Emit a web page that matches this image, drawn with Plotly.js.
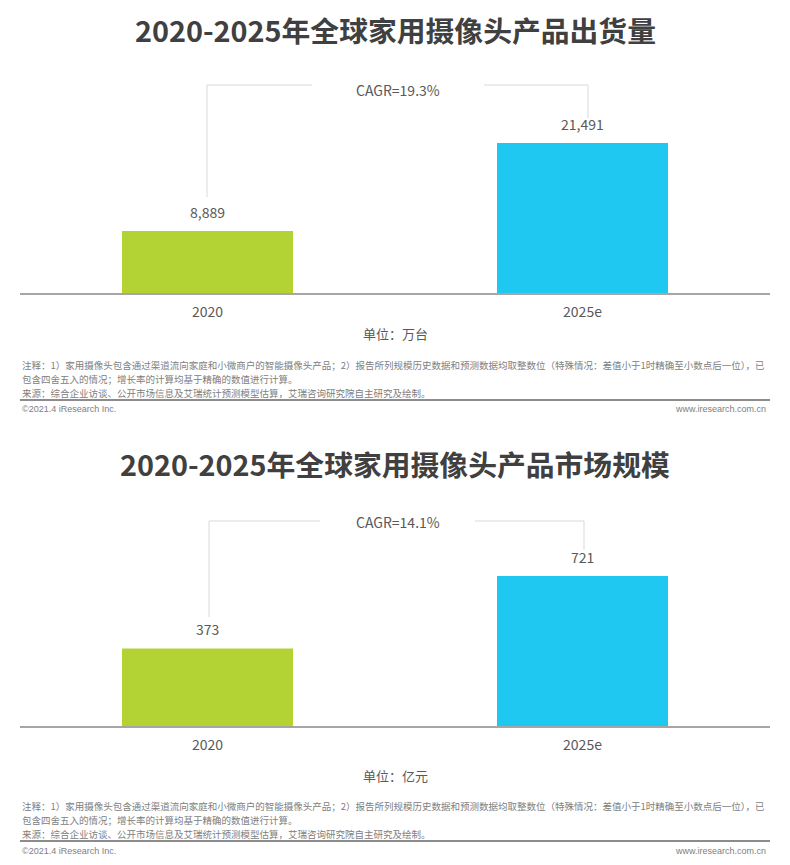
<!DOCTYPE html>
<html>
<head>
<meta charset="utf-8">
<script src="https://cdn.plot.ly/plotly-3.0.1.min.js"></script>
<style>html,body{margin:0;padding:0;background:#fff;}#chart{width:790px;height:865px;}</style>
</head>
<body>
<div id="chart"></div>
<script>
// ---- data ----
const categories = ["2020", "2025e"];
const shipments = [8889, 21491];      // 万台
const marketSize = [373, 721];        // 亿元
const barColors = ["#B3D334", "#1FC8F0"];
const title1 = "2020-2025年全球家用摄像头产品出货量";
const title2 = "2020-2025年全球家用摄像头产品市场规模";
const unit1 = "单位：万台";
const unit2 = "单位：亿元";
const cagr1 = "CAGR=19.3%";
const cagr2 = "CAGR=14.1%";
const noteLines = [
  "注释：1）家用摄像头包含通过渠道流向家庭和小微商户的智能摄像头产品；2）报告所列规模历史数据和预测数据均取整数位（特殊情况：差值小于1时精确至小数点后一位），已",
  "包含四舍五入的情况；增长率的计算均基于精确的数值进行计算。",
  "来源：综合企业访谈、公开市场信息及艾瑞统计预测模型估算，艾瑞咨询研究院自主研究及绘制。"
];
const footerLeft = "©2021.4 iResearch Inc.";
const footerRight = "www.iresearch.com.cn";

// ---- layout helpers ----
const W = 790, H = 865;
const px = x => x / W;
const py = y => 1 - y / H;
const FONT = '"Noto Sans CJK SC", "Noto Sans", sans-serif';
const fmt = v => v.toLocaleString('en-US');

const traces = [
  {type: 'bar', x: categories, y: shipments, xaxis: 'x', yaxis: 'y',
   marker: {color: barColors}, hoverinfo: 'skip'},
  {type: 'bar', x: categories, y: marketSize, xaxis: 'x2', yaxis: 'y2',
   marker: {color: barColors}, hoverinfo: 'skip'}
];

const annotations = [];
const shapes = [];

function addPanel(xa, ya, vals, title, unit, cagr, geo) {
  // title
  annotations.push({xref: 'paper', yref: 'paper', x: 0.5, y: py(geo.titleY),
    xanchor: 'center', yanchor: 'middle', showarrow: false, text: '<b>' + title + '</b>',
    font: {family: FONT, size: 28.8, color: '#404040'}});
  // value labels (x given as category index)
  vals.forEach((v, i) => annotations.push({xref: xa, yref: ya, x: i, y: v,
    xanchor: 'center', yanchor: 'bottom', yshift: 7, showarrow: false, text: fmt(v),
    font: {family: FONT, size: 14, color: '#595959'}}));
  // unit
  annotations.push({xref: 'paper', yref: 'paper', x: px(395), y: py(geo.unitY),
    xanchor: 'center', yanchor: 'middle', showarrow: false, text: unit,
    font: {family: FONT, size: 13, color: '#595959'}});
  // CAGR
  annotations.push({xref: 'paper', yref: 'paper', x: px(398), y: py(geo.cagrY),
    xanchor: 'center', yanchor: 'middle', showarrow: false, text: cagr,
    font: {family: FONT, size: 14, color: '#595959'}});
  const ln = {color: '#D9D9D9', width: 1};
  const b = geo.br;
  shapes.push({type: 'line', xref: 'paper', yref: 'paper', x0: px(b.l), x1: px(b.l), y0: py(b.y), y1: py(b.lb), line: ln});
  shapes.push({type: 'line', xref: 'paper', yref: 'paper', x0: px(b.l), x1: px(b.g0), y0: py(b.y), y1: py(b.y), line: ln});
  shapes.push({type: 'line', xref: 'paper', yref: 'paper', x0: px(b.g1), x1: px(b.r), y0: py(b.y), y1: py(b.y), line: ln});
  shapes.push({type: 'line', xref: 'paper', yref: 'paper', x0: px(b.r), x1: px(b.r), y0: py(b.y), y1: py(b.rb), line: ln});
  // notes
  noteLines.forEach((t, i) => annotations.push({xref: 'paper', yref: 'paper', x: px(20), y: py(geo.noteY + 14 * i),
    xanchor: 'left', yanchor: 'middle', showarrow: false, text: t,
    font: {family: FONT, size: 9.5, color: '#808080'}}));
  // separator
  shapes.push({type: 'line', xref: 'paper', yref: 'paper', x0: px(20), x1: px(770), y0: py(geo.sepY), y1: py(geo.sepY),
    line: {color: '#8C8C8C', width: 2}});
  // footer
  annotations.push({xref: 'paper', yref: 'paper', x: px(20), y: py(geo.footY), xanchor: 'left', yanchor: 'middle',
    showarrow: false, text: footerLeft, font: {family: '"Liberation Sans", Arial, sans-serif', size: 9, color: '#808080'}});
  annotations.push({xref: 'paper', yref: 'paper', x: px(768), y: py(geo.footY), xanchor: 'right', yanchor: 'middle',
    showarrow: false, text: footerRight, font: {family: '"Liberation Sans", Arial, sans-serif', size: 9, color: '#808080'}});
}

addPanel('x', 'y', shipments, title1, unit1, cagr1,
  {titleY: 29, unitY: 333, cagrY: 90, noteY: 365, sepY: 400, footY: 409,
   br: {l: 207, r: 588, y: 85, lb: 197, rb: 118, g0: 312, g1: 484}});
addPanel('x2', 'y2', marketSize, title2, unit2, cagr2,
  {titleY: 463, unitY: 775, cagrY: 522, noteY: 806, sepY: 841, footY: 851,
   br: {l: 209, r: 584, y: 521, lb: 617, rb: 550, g0: 320, g1: 475}});

const xBase = {type: 'category', range: [-0.5, 1.5], showgrid: false, zeroline: false,
  showline: true, linecolor: '#A6A6A6', linewidth: 2, ticks: '', ticklabelstandoff: 5,
  tickfont: {family: FONT, size: 14, color: '#595959'}, fixedrange: true};
const yBase = {showgrid: false, zeroline: false, showline: false, showticklabels: false, ticks: '', fixedrange: true};

const layout = {
  width: W, height: H,
  margin: {l: 0, r: 0, t: 0, b: 0, pad: 0},
  paper_bgcolor: '#fff', plot_bgcolor: '#fff',
  showlegend: false, bargap: 0.544,
  font: {family: FONT, color: '#595959'},
  xaxis: Object.assign({}, xBase, {domain: [px(20), px(770)], anchor: 'y'}),
  yaxis: Object.assign({}, yBase, {domain: [py(293), py(143)], range: [0, Math.max(...shipments)], anchor: 'x'}),
  xaxis2: Object.assign({}, xBase, {domain: [px(20), px(770)], anchor: 'y2'}),
  yaxis2: Object.assign({}, yBase, {domain: [py(726), py(576)], range: [0, Math.max(...marketSize)], anchor: 'x2'}),
  annotations: annotations,
  shapes: shapes
};

Plotly.newPlot('chart', traces, layout, {displayModeBar: false, staticPlot: true});
</script>
</body>
</html>
